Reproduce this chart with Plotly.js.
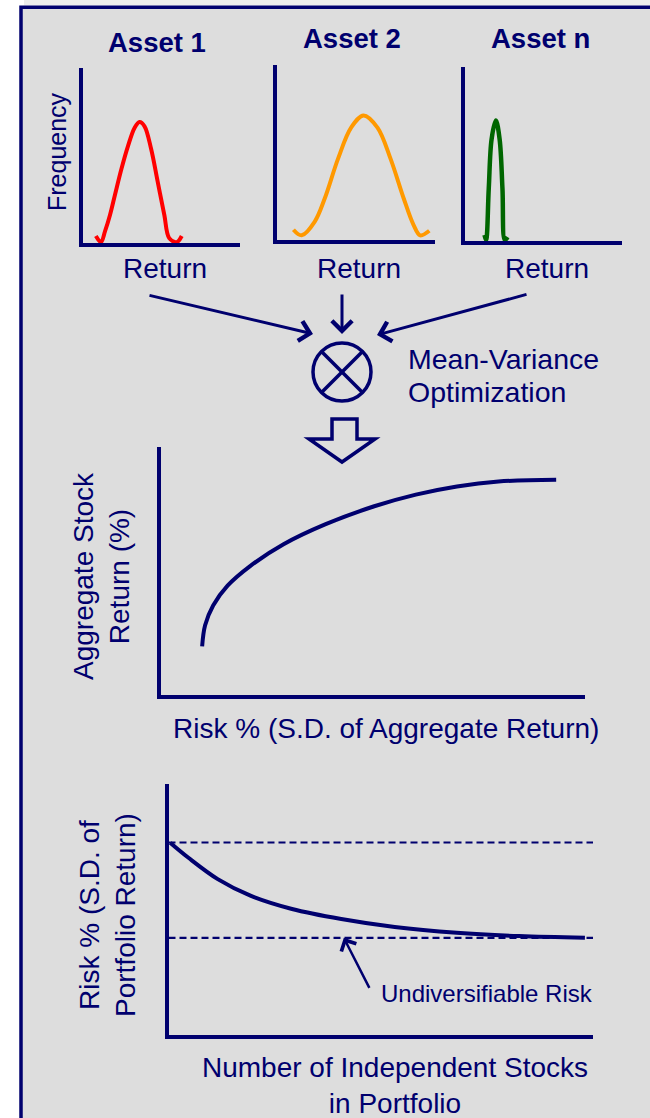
<!DOCTYPE html>
<html>
<head>
<meta charset="utf-8">
<script src="https://cdn.plot.ly/plotly-3.0.1.min.js"></script>
<style>
  html, body { margin: 0; padding: 0; background: #fff; }
  #chart { width: 650px; height: 1118px; }
</style>
</head>
<body>
<div id="chart"></div>
<script>
const NAVY = '#00006E';
const FONT = 'Liberation Sans, Arial, sans-serif';

// Return distributions of the individual assets (return, frequency), 0-100 scale
const assetNames = ['Asset 1', 'Asset 2', 'Asset n'];
const asset1Return = [8.2, 11.5, 14.0, 17.2, 20.3, 24.5, 28.7, 32.9, 36.0, 39.2, 43.4, 47.6, 51.8, 54.9, 59.7, 62.9];
const asset1Freq   = [4.0, 0.5, 6.6, 16.0, 27.3, 42.4, 55.5, 65.9, 69.1, 66.7, 53.7, 34.9, 16.0, 2.8, 0.5, 4.0];
const asset2Return = [10.4, 15.6, 23.9, 30.2, 38.6, 46.9, 54.8, 63.6, 71.9, 80.2, 86.4, 90.6, 96.4];
const asset2Freq   = [5.6, 2.4, 10.3, 23.5, 46.2, 64.1, 71.1, 64.1, 46.2, 23.5, 8.4, 2.4, 5.0];
const assetNReturn = [12.7, 13.7, 15.4, 17.2, 19.9, 22.3, 24.1, 25.6, 27.3];
const assetNFreq   = [3.4, 0.6, 30.1, 58.5, 69.3, 58.5, 30.1, 0.6, 2.3];

// Efficient frontier (risk, aggregate return)
const frontierRisk   = [9.7, 10.4, 12.3, 15.7, 21.1, 28.9, 38.7, 50.3, 60.1, 69.8, 79.6, 93.2];
const frontierReturn = [19.6, 28.1, 36.1, 44.1, 52.1, 60.8, 68.8, 76.1, 80.8, 84.1, 86.1, 86.8];

// Portfolio risk vs number of stocks
const stockCount    = [0.4, 4.7, 11.6, 19.3, 29.1, 40.7, 53.3, 67.9, 82.6, 98.1];
const portfolioRisk = [76.6, 70.6, 62.1, 55.5, 50.2, 46.2, 43.0, 40.7, 39.4, 38.7];
const totalRisk = 76.7;
const undiversifiableRisk = 38.7;

// pixel -> paper helpers
const W = 650, H = 1118;
const dx = p => p / W;
const dy = p => 1 - p / H;

const traces = [
  { x: asset1Return, y: asset1Freq, xaxis: 'x', yaxis: 'y', line: { color: '#FF0000', width: 4, shape: 'spline', smoothing: 1 } },
  { x: asset2Return, y: asset2Freq, xaxis: 'x2', yaxis: 'y2', line: { color: '#FF9900', width: 4, shape: 'spline', smoothing: 1 } },
  { x: assetNReturn, y: assetNFreq, xaxis: 'x3', yaxis: 'y3', line: { color: '#006600', width: 4.5, shape: 'spline', smoothing: 1 } },
  { x: frontierRisk, y: frontierReturn, xaxis: 'x4', yaxis: 'y4', line: { color: NAVY, width: 4, shape: 'spline', smoothing: 1 } },
  { x: [0, 100], y: [totalRisk, totalRisk], xaxis: 'x5', yaxis: 'y5', line: { color: NAVY, width: 2.2, dash: '7px,4px' } },
  { x: [0, 100], y: [undiversifiableRisk, undiversifiableRisk], xaxis: 'x5', yaxis: 'y5', line: { color: NAVY, width: 2.2, dash: '7px,4px' } },
  { x: stockCount, y: portfolioRisk, xaxis: 'x5', yaxis: 'y5', line: { color: NAVY, width: 4, shape: 'spline', smoothing: 1 } }
].map(t => ({ ...t, type: 'scatter', mode: 'lines', hoverinfo: 'skip', showlegend: false }));

const axisStyle = {
  showline: true, linewidth: 4, linecolor: NAVY,
  showgrid: false, zeroline: false, showticklabels: false, ticks: '',
  fixedrange: true
};

// [x0, x1, yBottom, yTop] in pixels
const boxes = [
  [83, 240, 243, 68],
  [277, 435, 239.5, 65],
  [464.5, 622, 241, 67],
  [161, 585, 695, 447],
  [168.5, 593, 1035, 784]
];

const layout = {
  width: W, height: H,
  margin: { l: 0, r: 0, t: 0, b: 0 },
  paper_bgcolor: '#FFFFFF',
  plot_bgcolor: 'rgba(0,0,0,0)',
  font: { family: FONT, color: NAVY },
  showlegend: false,
  annotations: [],
  shapes: []
};

boxes.forEach((b, i) => {
  const n = i === 0 ? '' : String(i + 1);
  layout['xaxis' + n] = { ...axisStyle, domain: [dx(b[0]), dx(b[1])], range: [0, 100], anchor: 'y' + n };
  layout['yaxis' + n] = { ...axisStyle, domain: [dy(b[2]), dy(b[3])], range: [0, 100], anchor: 'x' + n };
});

// background panel with frame
layout.shapes.push(
  { type: 'rect', xref: 'paper', yref: 'paper', x0: dx(24), x1: 1.02, y0: dy(5.5), y1: 1.01,
    fillcolor: '#ECECEC', line: { width: 0 }, layer: 'below' },
  { type: 'rect', xref: 'paper', yref: 'paper', x0: dx(21), x1: 1.02, y0: -0.02, y1: dy(7.3),
    fillcolor: '#DDDDDD', line: { color: NAVY, width: 3.5 }, layer: 'below' }
);

// optimisation symbol: circle with a cross
layout.shapes.push(
  { type: 'circle', xref: 'paper', yref: 'paper', x0: dx(313), x1: dx(371), y0: dy(401), y1: dy(343),
    line: { color: NAVY, width: 3.5 } },
  { type: 'line', xref: 'paper', yref: 'paper', x0: dx(321.5), y0: dy(351.5), x1: dx(362.5), y1: dy(392.5),
    line: { color: NAVY, width: 3.5 } },
  { type: 'line', xref: 'paper', yref: 'paper', x0: dx(362.5), y0: dy(351.5), x1: dx(321.5), y1: dy(392.5),
    line: { color: NAVY, width: 3.5 } }
);

// hollow down arrow
const hollow = [[332, 419], [357, 419], [357, 439], [375, 439], [342, 462], [309, 439], [332, 439]];
layout.shapes.push({
  type: 'path', xref: 'paper', yref: 'paper',
  path: 'M' + hollow.map(p => dx(p[0]) + ',' + dy(p[1])).join('L') + 'Z',
  line: { color: NAVY, width: 3.5 }, fillcolor: 'rgba(0,0,0,0)'
});

const label = (text, x, y, size, extra) => ({
  text, xref: 'paper', yref: 'paper', x: dx(x), y: dy(y),
  xanchor: 'center', yanchor: 'middle', showarrow: false,
  font: { family: FONT, size, color: NAVY }, ...extra
});

const titleX = [157, 352, 540];
const titleY = [42, 38, 39];
assetNames.forEach((name, i) => {
  layout.annotations.push(label('<b>' + name + '</b>', titleX[i], titleY[i], 27.5));
});
[165, 359, 547].forEach(x => layout.annotations.push(label('Return', x, 269, 28)));

layout.annotations.push(
  label('Frequency', 57, 152, 25, { textangle: -90 }),
  label('Mean-Variance', 406, 359, 28.5, { xanchor: 'left' }),
  label('Optimization', 406, 392, 28.5, { xanchor: 'left' }),
  label('Aggregate Stock<br>Return (%)', 101, 576, 28, { textangle: -90 }),
  label('Risk % (S.D. of Aggregate Return)', 386, 728, 28),
  label('Risk % (S.D. of<br>Portfolio Return)', 107, 915, 28, { textangle: -90 }),
  label('Undiversifiable Risk', 487, 993, 24),
  label('Number of Independent Stocks<br>in Portfolio', 395, 1085, 28)
);

// arrows feeding the optimiser
const feed = [[313, 334, -165, -39], [342, 334, 0, -41], [377, 335, 151, -41]];
feed.forEach(f => layout.annotations.push({
  xref: 'paper', yref: 'paper', x: dx(f[0]), y: dy(f[1]), ax: f[2], ay: f[3],
  text: '', showarrow: true, arrowhead: 4, arrowsize: 1.3, arrowwidth: 3, arrowcolor: NAVY
}));

// pointer to the undiversifiable level
layout.annotations.push({
  xref: 'x5', yref: 'y5', axref: 'x5', ayref: 'y5',
  x: 41.3, y: undiversifiableRisk, ax: 47.5, ay: 18.2,
  text: '', showarrow: true, arrowhead: 4, arrowsize: 1.3, arrowwidth: 2.5, arrowcolor: NAVY
});

Plotly.newPlot('chart', traces, layout, { staticPlot: true, displayModeBar: false });
</script>
</body>
</html>
